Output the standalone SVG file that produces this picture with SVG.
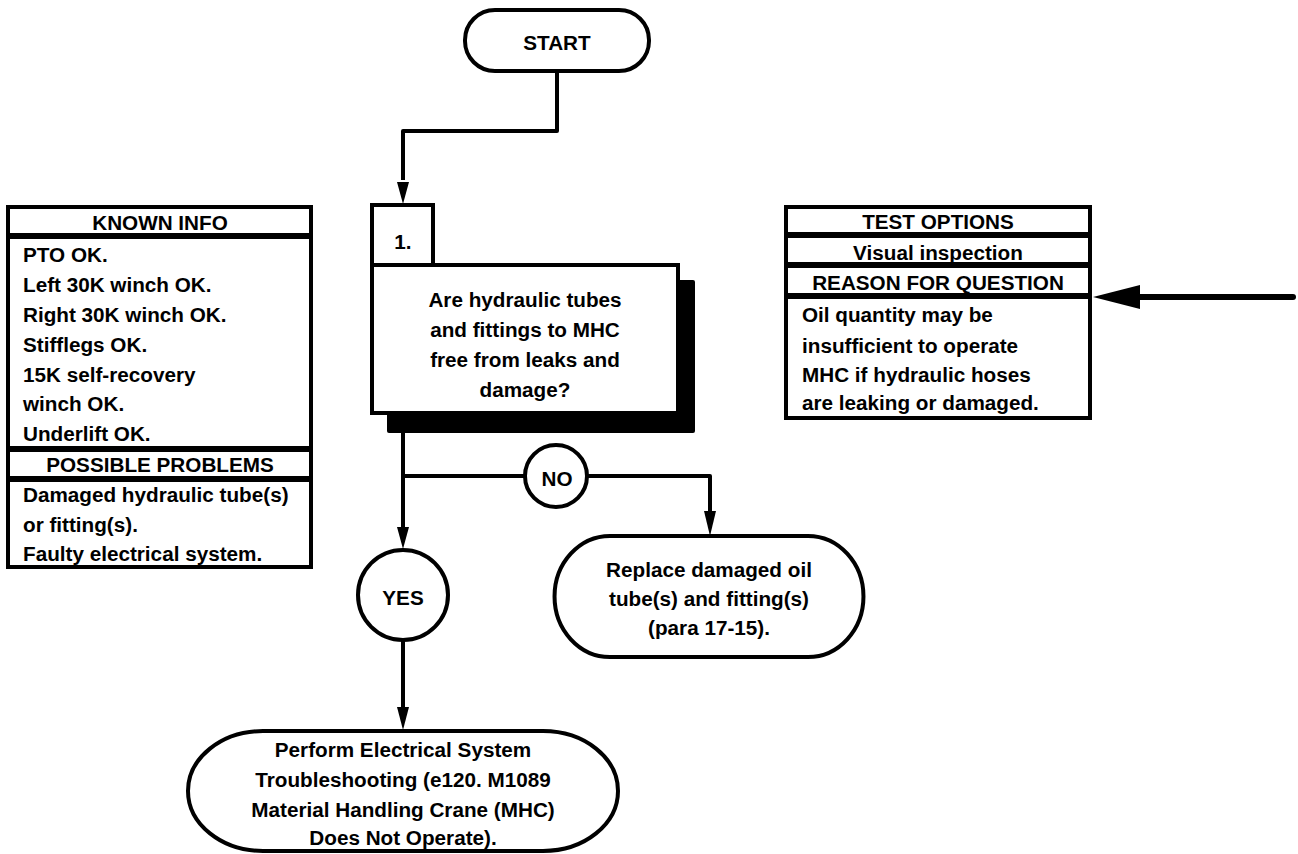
<svg xmlns="http://www.w3.org/2000/svg" width="1298" height="854" viewBox="0 0 1298 854">
<style>
  .box { fill: #fff; stroke: #000; stroke-width: 4; }
  .ln { fill: none; stroke: #000; stroke-width: 4; stroke-linejoin: round; }
  .t { font-family: "Liberation Sans", Arial, sans-serif; font-weight: bold; font-size: 20.7px; fill: #000; }
  .c { text-anchor: middle; }
</style>
<defs>
  <marker id="arr" markerUnits="userSpaceOnUse" markerWidth="14" markerHeight="26" refX="6" refY="24" orient="auto-start-reverse" viewBox="0 0 12 24">
    <path d="M0,0 L12,0 L6,24 Z" fill="#000"/>
  </marker>
</defs>
<rect width="1298" height="854" fill="#fff"/>

<g id="connectors">
  <path class="ln" d="M557,71 V131 H403 V180"/>
  <polygon points="397,182 409,182 403,204" fill="#000"/>
  <path class="ln" d="M403,433 V528"/>
  <polygon points="397,527 409,527 403,549" fill="#000"/>
  <path class="ln" d="M403,476 H525"/>
  <path class="ln" d="M587,476 H710 V512"/>
  <polygon points="704,511 716,511 710,536" fill="#000"/>
  <path class="ln" d="M403,640 V708"/>
  <polygon points="397,707 409,707 403,730" fill="#000"/>
  <path d="M1293,297 H1136" fill="none" stroke="#000" stroke-width="6" stroke-linecap="round"/>
  <polygon points="1093,297 1140,285 1140,309" fill="#000"/>
</g>

<g id="start">
  <rect class="box" x="465" y="10" width="184" height="61" rx="30" ry="30"/>
  <text class="t c" x="557" y="50">START</text>
</g>

<g id="known-info">
  <rect class="box" x="8" y="207" width="303" height="28"/>
  <text class="t c" x="160" y="230">KNOWN INFO</text>
  <rect class="box" x="8" y="237" width="303" height="211"/>
  <text class="t" x="23" y="262">PTO OK.</text>
  <text class="t" x="23" y="292">Left 30K winch OK.</text>
  <text class="t" x="23" y="322">Right 30K winch OK.</text>
  <text class="t" x="23" y="352">Stifflegs OK.</text>
  <text class="t" x="23" y="382">15K self-recovery</text>
  <text class="t" x="23" y="411">winch OK.</text>
  <text class="t" x="23" y="441">Underlift OK.</text>
  <rect class="box" x="8" y="450" width="303" height="28"/>
  <text class="t c" x="160" y="472">POSSIBLE PROBLEMS</text>
  <rect class="box" x="8" y="480" width="303" height="87"/>
  <text class="t" x="23" y="502">Damaged hydraulic tube(s)</text>
  <text class="t" x="23" y="532">or fitting(s).</text>
  <text class="t" x="23" y="561">Faulty electrical system.</text>
</g>

<g id="step1">
  <rect x="387" y="280" width="308" height="153" rx="2" fill="#000"/>
  <rect class="box" x="372" y="205" width="61" height="60"/>
  <text class="t c" x="403" y="249">1.</text>
  <rect class="box" x="372" y="265" width="306" height="148"/>
  <text class="t c" x="525" y="307">Are hydraulic tubes</text>
  <text class="t c" x="525" y="337">and fittings to MHC</text>
  <text class="t c" x="525" y="367">free from leaks and</text>
  <text class="t c" x="525" y="397">damage?</text>
</g>

<g id="test-options">
  <rect class="box" x="786" y="207" width="304" height="27"/>
  <text class="t c" x="938" y="229">TEST OPTIONS</text>
  <rect class="box" x="786" y="236" width="304" height="28"/>
  <text class="t c" x="938" y="260">Visual inspection</text>
  <rect class="box" x="786" y="266" width="304" height="29"/>
  <text class="t c" x="938" y="290">REASON FOR QUESTION</text>
  <rect class="box" x="786" y="297" width="304" height="121"/>
  <text class="t" x="802" y="322">Oil quantity may be</text>
  <text class="t" x="802" y="353">insufficient to operate</text>
  <text class="t" x="802" y="382">MHC if hydraulic hoses</text>
  <text class="t" x="802" y="410">are leaking or damaged.</text>
</g>

<g id="no">
  <circle class="box" cx="556" cy="476" r="31"/>
  <text class="t c" x="557" y="486">NO</text>
</g>

<g id="yes">
  <circle class="box" cx="403" cy="595" r="45"/>
  <text class="t c" x="403" y="605">YES</text>
</g>

<g id="replace">
  <path class="box" d="M610,536 H808 A55,60 0 0 1 808,657 H610 A55,60 0 0 1 610,536 Z"/>
  <text class="t c" x="709" y="577">Replace damaged oil</text>
  <text class="t c" x="709" y="606">tube(s) and fitting(s)</text>
  <text class="t c" x="709" y="635">(para 17-15).</text>
</g>

<g id="perform">
  <path class="box" d="M263,731 H543 A75,60 0 0 1 543,851 H263 A75,60 0 0 1 263,731 Z"/>
  <text class="t c" x="403" y="757">Perform Electrical System</text>
  <text class="t c" x="403" y="787">Troubleshooting (e120. M1089</text>
  <text class="t c" x="403" y="817">Material Handling Crane (MHC)</text>
  <text class="t c" x="403" y="845">Does Not Operate).</text>
</g>
</svg>
